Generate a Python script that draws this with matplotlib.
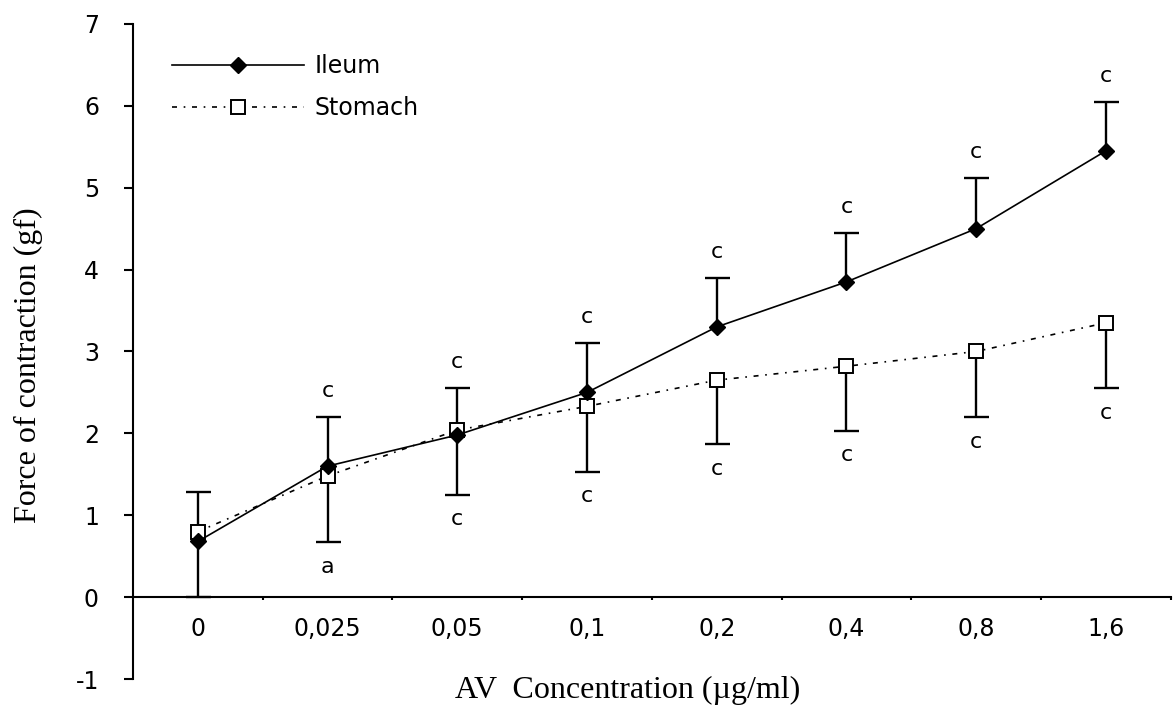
import numpy as np
import matplotlib
matplotlib.use("Agg")
import matplotlib.pyplot as plt

# data
conc_labels = ["0", "0,025", "0,05", "0,1", "0,2", "0,4", "0,8", "1,6"]
ileum = [0.68, 1.60, 1.98, 2.50, 3.30, 3.85, 4.50, 5.45]
ileum_err = [0.60, 0.60, 0.57, 0.60, 0.60, 0.60, 0.62, 0.60]
stomach = [0.80, 1.48, 2.04, 2.33, 2.65, 2.82, 3.00, 3.35]
stomach_err = [0.80, 0.81, 0.79, 0.80, 0.78, 0.79, 0.80, 0.80]
ileum_sig = ["", "c", "c", "c", "c", "c", "c", "c"]
stomach_sig = ["", "a", "c", "c", "c", "c", "c", "c"]

sans = "DejaVu Sans"
serif = "Liberation Serif"
plt.rcParams["axes.unicode_minus"] = False


def draw_bars(ax, x, y, err, up=True):
    # one-sided error bars with a cap only at the far end
    y = np.asarray(y)
    err = np.asarray(err)
    ends = y + err if up else y - err
    ax.vlines(x, y, ends, colors="black", lw=1.7, zorder=2)
    ax.plot(x, ends, ls="none", marker="_", ms=18, mew=1.7, color="black", zorder=2)
    return ends


def main():
    fig = plt.figure(figsize=(11.73, 7.18), dpi=100)
    ax = fig.add_axes([0.1134, 0.0543, 0.8846, 0.9123])
    x = np.arange(len(conc_labels))

    ax.plot(x, ileum, color="black", lw=1.2, marker="D", ms=8,
            mfc="black", mec="black", label="Ileum", zorder=4)
    ax.plot(x, stomach, color="black", lw=1.2, ls=(0, (3, 4, 1, 4)),
            marker="s", ms=10, mfc="white", mec="black", mew=1.4,
            label="Stomach", zorder=3)

    top = draw_bars(ax, x, ileum, ileum_err, up=True)
    bot = draw_bars(ax, x, stomach, stomach_err, up=False)

    for i in range(len(x)):
        if ileum_sig[i]:
            ax.text(x[i], top[i] + 0.32, ileum_sig[i], ha="center", va="center",
                    fontsize=16, family=sans)
        if stomach_sig[i]:
            ax.text(x[i], bot[i] - 0.3, stomach_sig[i], ha="center", va="center",
                    fontsize=16, family=sans)

    ax.set_xlim(-0.5, 7.5)
    ax.set_ylim(-1, 7)
    ax.spines["top"].set_visible(False)
    ax.spines["right"].set_visible(False)
    ax.spines["bottom"].set_position(("data", 0))
    for s in ("left", "bottom"):
        ax.spines[s].set_linewidth(1.5)

    ax.set_xticks(x)
    ax.set_xticklabels(conc_labels, family=sans, fontsize=17)
    ax.set_xticks(x + 0.5, minor=True)
    ax.tick_params(axis="x", which="major", length=0, pad=14)
    ax.tick_params(axis="x", which="minor", direction="out", length=2.5, width=1.5)

    ax.set_yticks(range(-1, 8))
    ax.tick_params(axis="y", direction="out", length=6.5, width=1.5, pad=18)
    for lab in ax.get_yticklabels():
        lab.set_family(sans)
        lab.set_fontsize(17)

    ax.set_ylabel("Force of contraction (gf)", family=serif, fontsize=23, va="center")
    ax.yaxis.set_label_coords(-0.101, 0.479)
    ax.set_xlabel("AV  Concentration (\u00b5g/ml)", family=serif, fontsize=23, va="center")
    ax.xaxis.set_label_coords(0.477, -0.017)

    ax.legend(loc="upper left", bbox_to_anchor=(0.0376, 0.954), frameon=False,
              prop={"family": sans, "size": 17}, handlelength=5.6,
              handletextpad=0.42, labelspacing=0.75, borderpad=0, borderaxespad=0)

    fig.savefig("out.png", dpi=100)


if __name__ == "__main__":
    main()
